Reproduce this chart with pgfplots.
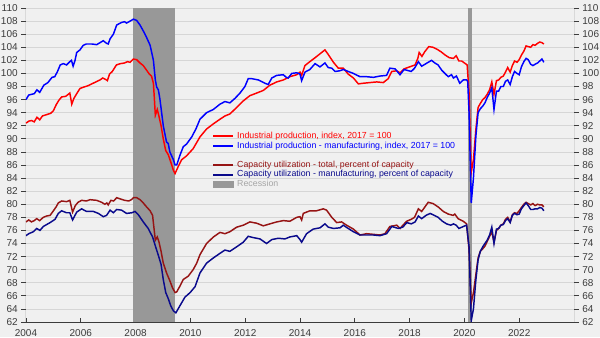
\documentclass[border=0pt]{standalone}
\usepackage{fontspec}
\setmainfont{Liberation Sans}
\usepackage{pgfplots}
\pgfplotsset{compat=1.18}
\definecolor{bgcol}{RGB}{240,240,240}
\definecolor{gridcol}{RGB}{214,214,214}
\definecolor{recgray}{RGB}{152,152,152}
\definecolor{ipred}{RGB}{255,0,0}
\definecolor{ipblue}{RGB}{0,0,255}
\definecolor{cudark}{RGB}{150,20,20}
\definecolor{cunavy}{RGB}{10,10,140}
\definecolor{axcol}{RGB}{60,60,60}
\definecolor{labcol}{RGB}{60,60,60}
\definecolor{reclab}{RGB}{165,165,165}
\begin{document}
\begin{tikzpicture}
\useasboundingbox (-19.5pt,-11.25pt) rectangle (430.5pt,241.5pt);
\fill[bgcol] (-19.5pt,-11.25pt) rectangle (430.5pt,241.5pt);
\begin{axis}[
  scale only axis, width=411pt, height=235.5pt,
  xmin=2004, xmax=2024, ymin=62, ymax=110,
  xtick={2004,2006,...,2022}, ytick distance=2,
  axis line style={draw=none},
  tick align=outside, major tick length=3.75pt,
  xtick pos=lower, ytick pos=left,
  x tick style={yshift=3.2pt, axcol, line width=0.6pt},
  y tick style={axcol, line width=0.6pt},
  ymajorgrids, grid style={gridcol, line width=0.6pt},
  tick label style={font=\fontsize{7.5}{8}\selectfont, text=labcol},
  xticklabel style={/pgf/number format/1000 sep={}, yshift=1.5pt},
  yticklabel style={xshift=1pt},
  /pgf/number format/assume math mode=true,
  axis background/.style={fill=bgcol},
  legend cell align=left,
  legend style={at={(axis cs:2010.79,91.15)}, anchor=north west, draw=none, fill=none,
    inner sep=0pt, outer sep=0pt, row sep=0pt,
    font=\fontsize{6.6}{7}\selectfont,
    nodes={inner sep=0.2pt, text height=5.2pt, text depth=1.6pt},
    /tikz/every odd column/.append style={column sep=2.2pt}},
  legend image code/.code={\draw[#1] (0pt,0pt) -- (15pt,0pt);},
]
% recessions
\addplot[fill=recgray, draw=none, forget plot] coordinates {(2007.917,62) (2009.43,62) (2009.43,110) (2007.917,110)} -- cycle;
\addplot[fill=recgray, draw=none, forget plot] coordinates {(2020.12,62) (2020.29,62) (2020.29,110) (2020.12,110)} -- cycle;

% Capacity utilization - total
\addplot[cudark, line width=1.1pt, forget plot] coordinates {
(2004.0,77.3) (2004.1,77.6) (2004.2,77.3) (2004.3,77.5) (2004.39,77.8) (2004.5,77.5) (2004.63,78.0) (2004.75,78.2) (2004.88,78.3) (2005.0,79.0) (2005.1,79.6) (2005.18,80.2) (2005.3,80.5) (2005.48,80.4) (2005.6,80.6) (2005.7,78.8) (2005.8,79.8) (2005.9,80.3) (2006.03,80.6) (2006.2,80.5) (2006.34,80.7) (2006.58,80.6) (2006.76,80.3) (2006.88,80.0) (2006.95,80.2) (2007.0,79.9) (2007.1,80.6) (2007.2,80.5) (2007.31,81.0) (2007.45,80.8) (2007.6,80.6) (2007.75,80.5) (2007.85,80.7) (2007.92,81.0) (2008.04,81.0) (2008.16,80.7) (2008.28,80.2) (2008.4,79.6) (2008.53,79.0) (2008.62,78.3) (2008.68,76.0) (2008.72,74.5) (2008.79,75.0) (2008.85,74.3) (2008.93,72.8) (2009.01,71.0) (2009.13,69.5) (2009.25,68.3) (2009.35,67.2) (2009.44,66.5) (2009.5,66.6) (2009.62,67.5) (2009.74,68.5) (2009.92,69.0) (2010.1,70.0) (2010.23,71.0) (2010.35,72.3) (2010.59,74.0) (2010.84,75.0) (2011.08,75.7) (2011.26,75.5) (2011.44,75.8) (2011.69,76.5) (2011.93,76.8) (2012.17,77.3) (2012.42,77.1) (2012.66,76.7) (2012.9,77.0) (2013.15,77.3) (2013.39,77.5) (2013.63,77.4) (2013.88,78.0) (2014.0,78.1) (2014.06,77.6) (2014.12,78.6) (2014.36,79.0) (2014.6,79.0) (2014.85,79.3) (2014.97,79.1) (2015.16,78.0) (2015.34,77.2) (2015.52,77.3) (2015.7,76.8) (2015.95,76.2) (2016.19,75.3) (2016.43,75.5) (2016.68,75.4) (2016.92,75.3) (2017.1,75.5) (2017.28,76.6) (2017.53,76.8) (2017.65,76.3) (2017.89,77.4) (2018.06,77.7) (2018.18,78.0) (2018.32,79.3) (2018.44,78.9) (2018.68,80.3) (2018.86,80.1) (2019.04,79.6) (2019.23,78.9) (2019.41,78.5) (2019.59,78.3) (2019.65,78.5) (2019.77,77.8) (2019.96,77.4) (2020.08,77.0) (2020.17,73.0) (2020.25,64.9) (2020.33,66.5) (2020.42,69.3) (2020.5,71.8) (2020.58,72.8) (2020.67,73.2) (2020.75,73.6) (2020.83,74.3) (2020.92,75.1) (2021.0,75.8) (2021.08,74.2) (2021.17,76.0) (2021.25,76.3) (2021.33,76.8) (2021.42,77.0) (2021.5,77.7) (2021.58,78.0) (2021.67,77.3) (2021.75,78.4) (2021.83,78.7) (2021.92,78.6) (2022.0,79.0) (2022.08,79.5) (2022.17,80.0) (2022.25,80.3) (2022.33,80.1) (2022.42,79.9) (2022.5,80.1) (2022.58,79.8) (2022.67,80.0) (2022.75,79.9) (2022.83,79.9) (2022.9,79.6)
};
% Capacity utilization - manufacturing
\addplot[cunavy, line width=1.1pt, forget plot] coordinates {
(2004.0,75.2) (2004.1,75.5) (2004.27,75.8) (2004.39,76.3) (2004.51,76.0) (2004.63,76.6) (2004.88,77.2) (2005.06,77.7) (2005.18,78.6) (2005.3,79.0) (2005.48,78.7) (2005.6,78.7) (2005.7,77.6) (2005.85,78.8) (2006.03,79.3) (2006.21,78.9) (2006.46,78.9) (2006.64,78.6) (2006.82,78.1) (2006.94,78.3) (2007.07,79.1) (2007.19,78.7) (2007.31,79.2) (2007.49,79.1) (2007.67,78.6) (2007.86,78.7) (2007.98,78.9) (2008.1,78.4) (2008.28,77.3) (2008.46,76.3) (2008.62,75.0) (2008.73,73.5) (2008.83,72.2) (2008.93,70.8) (2009.01,68.5) (2009.1,66.5) (2009.19,65.6) (2009.28,64.5) (2009.38,63.7) (2009.47,63.4) (2009.62,64.5) (2009.8,65.8) (2009.99,66.5) (2010.17,67.4) (2010.35,69.5) (2010.59,71.0) (2010.84,71.8) (2011.08,72.5) (2011.26,73.0) (2011.44,72.8) (2011.69,73.5) (2011.93,74.2) (2012.11,75.1) (2012.3,74.9) (2012.54,74.7) (2012.78,74.0) (2012.97,74.6) (2013.21,74.8) (2013.45,74.7) (2013.63,75.0) (2013.88,75.2) (2014.0,74.6) (2014.06,74.2) (2014.24,75.5) (2014.48,76.2) (2014.73,76.4) (2014.91,77.0) (2015.03,76.5) (2015.22,76.3) (2015.46,76.4) (2015.58,76.8) (2015.76,76.3) (2015.95,75.8) (2016.19,75.3) (2016.43,75.3) (2016.68,75.3) (2016.92,75.2) (2017.16,75.5) (2017.35,76.6) (2017.59,76.3) (2017.75,76.5) (2017.9,77.2) (2018.06,77.0) (2018.2,77.3) (2018.32,78.2) (2018.44,77.8) (2018.6,78.3) (2018.75,78.6) (2018.9,78.3) (2019.04,78.0) (2019.2,77.4) (2019.35,77.0) (2019.5,76.8) (2019.6,77.0) (2019.7,76.8) (2019.8,76.3) (2019.96,76.6) (2020.08,76.8) (2020.17,73.5) (2020.25,62.2) (2020.33,64.0) (2020.42,68.5) (2020.5,71.5) (2020.58,72.8) (2020.67,73.5) (2020.75,74.0) (2020.83,74.5) (2020.92,75.3) (2021.0,76.5) (2021.08,74.0) (2021.17,76.2) (2021.25,76.3) (2021.33,76.8) (2021.42,76.9) (2021.5,77.5) (2021.58,77.8) (2021.67,77.2) (2021.75,78.3) (2021.83,78.6) (2021.92,78.4) (2022.0,78.5) (2022.08,79.3) (2022.17,79.8) (2022.25,80.2) (2022.33,79.8) (2022.42,79.2) (2022.5,79.2) (2022.58,79.3) (2022.67,79.3) (2022.75,79.5) (2022.83,79.4) (2022.9,79.0)
};
% Industrial production - total
\addplot[ipred, line width=1.1pt, forget plot] coordinates {
(2004.0,92.4) (2004.1,92.7) (2004.2,92.8) (2004.3,92.6) (2004.4,93.3) (2004.5,92.9) (2004.6,93.5) (2004.75,93.7) (2004.9,93.9) (2005.0,94.3) (2005.1,95.2) (2005.2,95.9) (2005.3,96.4) (2005.45,96.5) (2005.6,97.0) (2005.67,95.3) (2005.75,96.2) (2005.85,96.9) (2005.97,97.7) (2006.1,97.9) (2006.25,98.1) (2006.45,98.5) (2006.6,98.8) (2006.7,99.0) (2006.8,99.3) (2006.9,99.1) (2006.97,98.9) (2007.05,99.9) (2007.15,100.3) (2007.3,101.3) (2007.45,101.5) (2007.6,101.6) (2007.7,101.8) (2007.8,101.7) (2007.92,102.2) (2008.04,102.1) (2008.16,101.6) (2008.28,101.2) (2008.4,100.5) (2008.5,99.9) (2008.58,99.6) (2008.65,98.5) (2008.68,96.5) (2008.72,93.6) (2008.79,94.5) (2008.85,93.5) (2008.93,92.0) (2009.01,90.0) (2009.1,88.2) (2009.19,87.6) (2009.28,86.5) (2009.38,85.2) (2009.44,84.7) (2009.56,85.8) (2009.68,86.8) (2009.86,87.4) (2010.1,88.5) (2010.35,90.3) (2010.59,91.5) (2010.84,92.3) (2011.08,93.0) (2011.26,93.5) (2011.44,93.8) (2011.69,94.8) (2011.93,95.8) (2012.17,96.6) (2012.42,97.0) (2012.66,97.4) (2012.9,98.2) (2013.15,98.7) (2013.39,99.0) (2013.63,99.5) (2013.88,99.8) (2014.0,100.2) (2014.06,99.7) (2014.18,101.2) (2014.36,101.8) (2014.55,102.4) (2014.73,103.0) (2014.91,103.6) (2015.03,102.9) (2015.22,101.7) (2015.4,100.8) (2015.58,100.8) (2015.76,99.9) (2015.95,99.3) (2016.13,98.4) (2016.31,98.5) (2016.55,98.6) (2016.8,98.7) (2017.04,98.6) (2017.22,99.2) (2017.35,100.3) (2017.53,100.4) (2017.65,100.1) (2017.8,100.7) (2018.0,101.0) (2018.2,101.3) (2018.3,102.3) (2018.35,103.2) (2018.45,102.6) (2018.55,103.3) (2018.7,104.1) (2018.85,104.0) (2019.0,103.7) (2019.15,103.3) (2019.3,102.8) (2019.45,102.4) (2019.6,102.3) (2019.7,102.7) (2019.8,101.9) (2019.9,101.9) (2020.0,101.6) (2020.1,101.3) (2020.17,97.0) (2020.25,84.9) (2020.33,86.8) (2020.42,91.5) (2020.5,94.8) (2020.58,95.4) (2020.67,96.0) (2020.75,96.3) (2020.83,96.8) (2020.92,97.5) (2021.0,98.7) (2021.08,96.8) (2021.17,98.9) (2021.25,99.0) (2021.33,99.4) (2021.42,99.6) (2021.5,100.2) (2021.58,100.9) (2021.67,100.2) (2021.75,101.2) (2021.83,101.9) (2021.92,101.7) (2022.0,102.1) (2022.08,102.8) (2022.17,103.4) (2022.25,104.2) (2022.33,104.1) (2022.42,104.0) (2022.5,104.4) (2022.58,104.3) (2022.67,104.6) (2022.75,104.8) (2022.83,104.7) (2022.9,104.5)
};
% Industrial production - manufacturing
\addplot[ipblue, line width=1.1pt, forget plot] coordinates {
(2004.0,96.0) (2004.1,96.7) (2004.3,96.9) (2004.4,97.5) (2004.5,97.1) (2004.65,98.2) (2004.8,98.6) (2004.95,99.4) (2005.05,99.5) (2005.15,100.3) (2005.25,101.3) (2005.36,101.5) (2005.48,101.3) (2005.6,101.8) (2005.66,102.0) (2005.72,101.1) (2005.79,102.0) (2005.85,103.2) (2005.97,103.6) (2006.09,104.3) (2006.2,104.5) (2006.4,104.5) (2006.58,104.4) (2006.7,104.7) (2006.82,105.0) (2006.94,104.6) (2007.0,104.5) (2007.07,105.3) (2007.19,106.0) (2007.31,107.4) (2007.49,107.8) (2007.6,107.9) (2007.67,107.7) (2007.8,108.0) (2007.92,108.3) (2008.04,108.1) (2008.16,107.4) (2008.28,106.5) (2008.4,105.5) (2008.53,104.3) (2008.65,102.0) (2008.72,99.0) (2008.77,97.9) (2008.83,97.5) (2008.89,96.0) (2009.01,92.0) (2009.13,89.5) (2009.19,89.3) (2009.25,88.0) (2009.38,86.8) (2009.44,86.0) (2009.5,86.0) (2009.62,87.5) (2009.74,88.8) (2009.86,89.2) (2010.05,90.3) (2010.2,91.5) (2010.35,93.0) (2010.59,94.0) (2010.84,94.5) (2011.08,95.3) (2011.26,95.7) (2011.44,95.5) (2011.63,96.2) (2011.81,97.0) (2011.99,98.0) (2012.11,99.2) (2012.24,99.2) (2012.48,99.0) (2012.72,98.5) (2012.84,98.3) (2012.97,99.3) (2013.15,99.7) (2013.39,99.8) (2013.5,99.4) (2013.57,99.3) (2013.7,100.0) (2013.88,100.1) (2014.0,99.9) (2014.06,98.9) (2014.18,100.2) (2014.36,100.6) (2014.55,101.5) (2014.73,101.0) (2014.91,101.6) (2015.03,100.9) (2015.16,100.8) (2015.28,100.3) (2015.45,100.4) (2015.58,100.6) (2015.76,100.3) (2015.95,100.0) (2016.19,99.5) (2016.43,99.5) (2016.68,99.4) (2016.92,99.6) (2017.16,99.7) (2017.28,100.8) (2017.47,100.7) (2017.65,99.8) (2017.8,100.6) (2018.06,100.3) (2018.18,100.8) (2018.32,101.8) (2018.44,101.1) (2018.68,101.7) (2018.8,102.0) (2018.92,101.6) (2019.04,101.3) (2019.17,100.5) (2019.29,100.0) (2019.41,99.5) (2019.53,99.8) (2019.6,99.3) (2019.71,99.6) (2019.83,98.5) (2019.96,99.0) (2020.08,99.0) (2020.12,98.8) (2020.17,94.0) (2020.25,80.2) (2020.33,84.0) (2020.42,90.5) (2020.5,94.0) (2020.58,94.6) (2020.67,95.0) (2020.75,95.5) (2020.83,96.3) (2020.92,97.0) (2021.0,97.8) (2021.08,94.5) (2021.17,97.3) (2021.25,97.3) (2021.33,98.0) (2021.42,98.0) (2021.5,98.8) (2021.58,99.0) (2021.67,98.3) (2021.75,99.5) (2021.83,100.3) (2021.92,100.0) (2022.0,99.8) (2022.08,101.0) (2022.17,101.8) (2022.25,102.3) (2022.33,102.1) (2022.42,101.4) (2022.5,101.2) (2022.58,101.4) (2022.67,101.6) (2022.75,101.9) (2022.83,102.2) (2022.9,101.7)
};

% axis lines
\draw[axcol, line width=0.75pt] (rel axis cs:0,1) -- (rel axis cs:0,0) -- (rel axis cs:1,0) -- (rel axis cs:1,1);

% legend
\addlegendimage{ipred, line width=1.5pt}
\addlegendentry{\textcolor{ipred}{Industrial production, index, 2017 = 100}}
\addlegendimage{ipblue, line width=1.5pt}
\addlegendentry{\textcolor{ipblue}{Industrial production - manufacturing, index, 2017 = 100}}
\addlegendimage{legend image code/.code={}}
\addlegendentry{}
\addlegendimage{cudark, line width=1.5pt}
\addlegendentry{\textcolor{cudark}{Capacity utilization - total, percent of capacity}}
\addlegendimage{cunavy, line width=1.5pt}
\addlegendentry{\textcolor{cunavy}{Capacity utilization - manufacturing, percent of capacity}}
\addlegendimage{legend image code/.code={\fill[recgray] (0pt,-2.3pt) rectangle (15pt,2.3pt);}}
\addlegendentry{\textcolor{reclab}{Recession}}
\end{axis}
\begin{axis}[
  scale only axis, width=411pt, height=235.5pt,
  xmin=2004, xmax=2024, ymin=62, ymax=110,
  ytick distance=2,
  hide x axis, axis y line*=right,
  axis line style={draw=none},
  tick align=outside, major tick length=3.75pt,
  y tick style={axcol, line width=0.6pt},
  tick label style={font=\fontsize{7.5}{8}\selectfont, text=labcol},
  yticklabel style={xshift=-1pt},
  /pgf/number format/assume math mode=true,
]
\end{axis}
\end{tikzpicture}
\end{document}
